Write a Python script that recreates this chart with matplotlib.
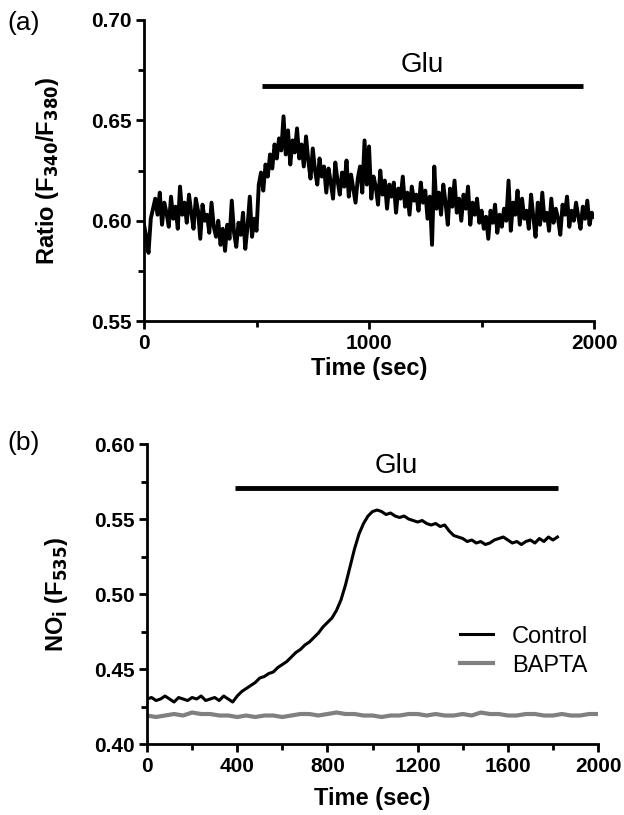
import numpy as np
import matplotlib
matplotlib.use("Agg")
import matplotlib.pyplot as plt
from matplotlib.ticker import MultipleLocator, FormatStrFormatter

plt.rcParams["font.family"] = ["Liberation Sans", "DejaVu Sans"]

# ---- panel (a): Fura-2 ratio, sampled every 10 s ----
time_a = np.arange(0, 2001, 10)
ratio_a = [
    0.598, 0.592, 0.584, 0.601, 0.606, 0.611, 0.603, 0.614, 0.598, 0.609, 0.604,
    0.597, 0.612, 0.601, 0.607, 0.596, 0.617, 0.603, 0.609, 0.599, 0.613,
    0.604, 0.596, 0.611, 0.605, 0.591, 0.608, 0.600, 0.603, 0.594, 0.609,
    0.597, 0.592, 0.600, 0.588, 0.596, 0.585, 0.598, 0.591, 0.610, 0.594,
    0.587, 0.599, 0.593, 0.604, 0.586, 0.597, 0.612, 0.592, 0.601, 0.595,
    0.618, 0.624, 0.615, 0.628, 0.622, 0.633, 0.626, 0.638, 0.631, 0.641,
    0.635, 0.652, 0.633, 0.645, 0.628, 0.640, 0.634, 0.646, 0.631, 0.638,
    0.627, 0.642, 0.630, 0.621, 0.636, 0.625, 0.618, 0.631, 0.622, 0.627,
    0.614, 0.626, 0.619, 0.611, 0.629, 0.620, 0.613, 0.624, 0.617, 0.630,
    0.612, 0.623, 0.616, 0.609, 0.621, 0.627, 0.614, 0.640, 0.618, 0.637,
    0.611, 0.622, 0.617, 0.608, 0.625, 0.613, 0.620, 0.606, 0.618, 0.612,
    0.619, 0.604, 0.616, 0.611, 0.622, 0.607, 0.614, 0.603, 0.617, 0.610,
    0.613, 0.605, 0.619, 0.609, 0.615, 0.601, 0.612, 0.588, 0.627, 0.606,
    0.614, 0.603, 0.618, 0.609, 0.598, 0.616, 0.607, 0.620, 0.604, 0.611,
    0.600, 0.613, 0.606, 0.617, 0.598, 0.609, 0.603, 0.611, 0.599, 0.605,
    0.596, 0.602, 0.591, 0.605, 0.599, 0.608, 0.594, 0.603, 0.597, 0.606,
    0.600, 0.620, 0.595, 0.609, 0.603, 0.615, 0.598, 0.611, 0.601, 0.605,
    0.596, 0.613, 0.602, 0.592, 0.609, 0.598, 0.614, 0.600, 0.604, 0.595,
    0.611, 0.599, 0.606, 0.601, 0.593, 0.608, 0.603, 0.612, 0.597, 0.605,
    0.600, 0.609, 0.602, 0.596, 0.607, 0.601, 0.610, 0.598, 0.604, 0.602,
]
glu_a = (524, 1951, 0.667)  # start, end, level

# ---- panel (b): NO fluorescence ----
time_ctrl = np.arange(0, 1821, 20)
control = [
    0.430, 0.431, 0.429, 0.430, 0.432, 0.430, 0.428, 0.431, 0.430, 0.429,
    0.431, 0.430, 0.432, 0.429, 0.430, 0.431, 0.429, 0.432, 0.430, 0.428,
    0.432, 0.435, 0.437, 0.439, 0.441, 0.444, 0.445, 0.447, 0.448, 0.451,
    0.453, 0.455, 0.458, 0.461, 0.463, 0.466, 0.468, 0.471, 0.474, 0.478,
    0.481, 0.484, 0.489, 0.496, 0.506, 0.518, 0.530, 0.540, 0.547, 0.552,
    0.555, 0.556, 0.555, 0.553, 0.554, 0.552, 0.551, 0.552, 0.550, 0.549,
    0.548, 0.549, 0.547, 0.546, 0.547, 0.545, 0.546, 0.542, 0.539, 0.538,
    0.537, 0.535, 0.536, 0.534, 0.535, 0.533, 0.534, 0.536, 0.537, 0.538,
    0.536, 0.534, 0.535, 0.533, 0.535, 0.536, 0.534, 0.537, 0.535, 0.538,
    0.536, 0.538,
]
time_bapta = np.arange(0, 2001, 40)
bapta = [
    0.419, 0.418, 0.419, 0.420, 0.419, 0.421, 0.420, 0.420, 0.419, 0.419,
    0.418, 0.419, 0.418, 0.419, 0.419, 0.418, 0.419, 0.420, 0.420, 0.419,
    0.420, 0.421, 0.420, 0.420, 0.419, 0.419, 0.418, 0.419, 0.419, 0.420,
    0.420, 0.419, 0.420, 0.419, 0.419, 0.420, 0.419, 0.421, 0.420, 0.420,
    0.419, 0.419, 0.420, 0.420, 0.419, 0.419, 0.420, 0.419, 0.419, 0.420,
    0.420,
]
glu_b = (390, 1822, 0.5707)

TICK_FS = 15
LABEL_FS = 17
GLU_FS = 20


def style_axes(ax):
    for side in ("top", "right"):
        ax.spines[side].set_visible(False)
    for side in ("left", "bottom"):
        ax.spines[side].set_linewidth(2)
    ax.tick_params(which="major", length=6, width=2, labelsize=TICK_FS, pad=3)
    ax.tick_params(which="minor", length=4, width=2)
    for lab in ax.get_xticklabels() + ax.get_yticklabels():
        lab.set_fontweight("bold")


fig = plt.figure(figsize=(6.24, 8.15), dpi=100)

# (a)
ax1 = fig.add_axes([0.2308, 0.606, 0.7212, 0.3695])
ax1.plot(time_a, ratio_a, color="black", linewidth=2.8)
ax1.plot(glu_a[:2], [glu_a[2]] * 2, color="black", linewidth=3.5, solid_capstyle="butt")
ax1.text((glu_a[0] + glu_a[1]) / 2, glu_a[2] + 0.004, "Glu", ha="center", va="bottom", fontsize=GLU_FS)
ax1.set_xlim(0, 2000)
ax1.set_ylim(0.55, 0.70)
ax1.xaxis.set_major_locator(MultipleLocator(1000))
ax1.xaxis.set_minor_locator(MultipleLocator(500))
ax1.yaxis.set_major_locator(MultipleLocator(0.05))
ax1.yaxis.set_minor_locator(MultipleLocator(0.025))
ax1.yaxis.set_major_formatter(FormatStrFormatter("%.2f"))
ax1.set_xlabel("Time (sec)", fontsize=LABEL_FS, fontweight="bold", labelpad=3)
ax1.set_ylabel(r"Ratio (F$_{\mathbf{340}}$/F$_{\mathbf{380}}$)", fontsize=17, fontweight="bold")
ax1.yaxis.set_label_coords(-0.185, 0.5)
style_axes(ax1)
fig.text(0.012, 0.972, "(a)", fontsize=19, va="center")

# (b)
ax2 = fig.add_axes([0.2356, 0.0871, 0.7228, 0.3681])
ax2.plot(time_ctrl, control, color="black", linewidth=2.2, label="Control")
ax2.plot(time_bapta, bapta, color="#808080", linewidth=3, label="BAPTA")
ax2.plot(glu_b[:2], [glu_b[2]] * 2, color="black", linewidth=3.5, solid_capstyle="butt")
ax2.text((glu_b[0] + glu_b[1]) / 2, glu_b[2] + 0.006, "Glu", ha="center", va="bottom", fontsize=GLU_FS)
ax2.set_xlim(0, 2000)
ax2.set_ylim(0.40, 0.60)
ax2.xaxis.set_major_locator(MultipleLocator(400))
ax2.xaxis.set_minor_locator(MultipleLocator(200))
ax2.yaxis.set_major_locator(MultipleLocator(0.05))
ax2.yaxis.set_minor_locator(MultipleLocator(0.025))
ax2.yaxis.set_major_formatter(FormatStrFormatter("%.2f"))
ax2.set_xlabel("Time (sec)", fontsize=LABEL_FS, fontweight="bold", labelpad=8)
ax2.set_ylabel(r"NO$_{\mathbf{i}}$ (F$_{\mathbf{535}}$)", fontsize=LABEL_FS, fontweight="bold")
ax2.yaxis.set_label_coords(-0.171, 0.5)
style_axes(ax2)
ax2.legend(loc="upper left", bbox_to_anchor=(0.694, 0.395), frameon=False,
           fontsize=LABEL_FS, handlelength=1.4, handletextpad=0.8,
           borderpad=0, borderaxespad=0, labelspacing=0.3)
fig.text(0.012, 0.456, "(b)", fontsize=19, va="center")

fig.savefig("out.png", dpi=100)
